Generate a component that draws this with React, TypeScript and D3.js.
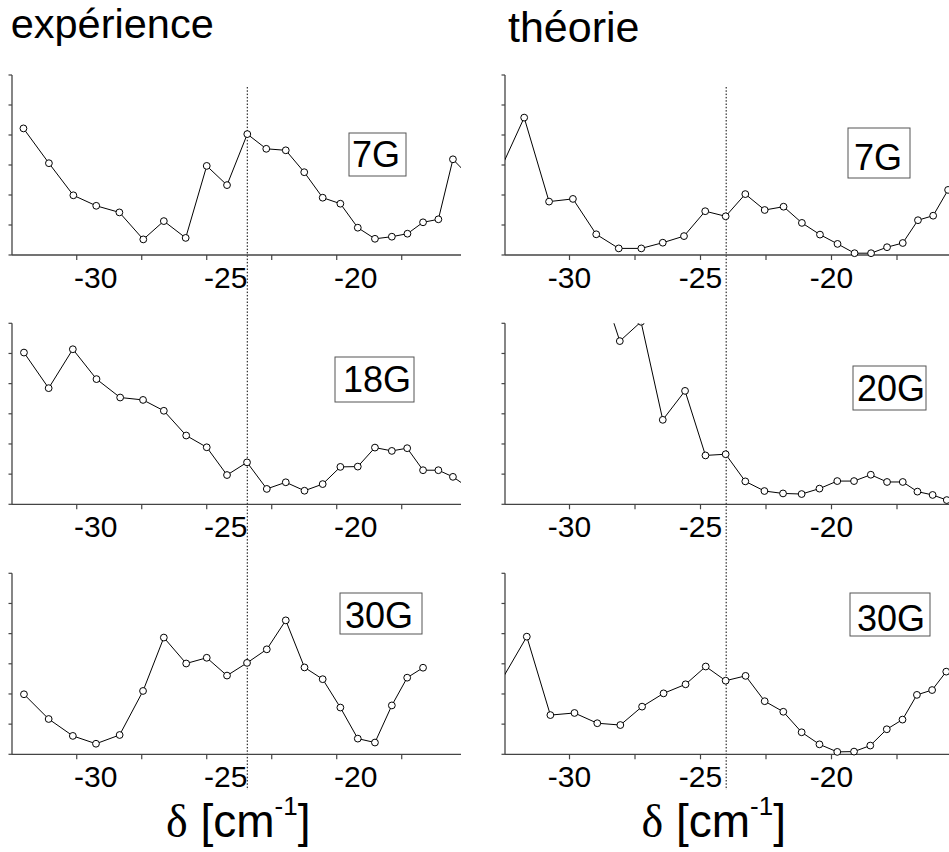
import React from "react";
import * as d3 from "d3";

// ---- data (δ in cm^-1, intensity in arbitrary units, y-axis 0..6) ----
const expLabels = ["7G", "18G", "30G"];
const theoLabels = ["7G", "20G", "30G"];
const titles = ["expérience", "théorie"];
const xTickMajor = [-30, -25, -20];
const xTickMinor = [-27.5, -22.5, -17.5];
const yTicks = [0, 1, 2, 3, 4, 5, 6];
const markerLines = [-23.44, -24.02];

const exp7X = [-32.05, -31.07, -30.13, -29.25, -28.36, -27.44, -26.65, -25.81, -25.0, -24.22, -23.44, -22.71, -21.96, -21.25, -20.54, -19.86, -19.19, -18.53, -17.88, -17.28, -16.68, -16.09, -15.53, -14.93];
const exp7Y = [4.22, 3.06, 1.99, 1.64, 1.42, 0.52, 1.13, 0.57, 2.97, 2.33, 4.03, 3.54, 3.49, 2.76, 1.91, 1.71, 0.91, 0.54, 0.61, 0.71, 1.09, 1.19, 3.19, 2.65];

const exp18X = [-32.03, -31.08, -30.15, -29.24, -28.33, -27.45, -26.65, -25.79, -25.0, -24.22, -23.45, -22.69, -21.96, -21.24, -20.54, -19.86, -19.19, -18.53, -17.88, -17.29, -16.68, -16.09, -15.53, -14.93];
const exp18Y = [5.03, 3.85, 5.14, 4.15, 3.54, 3.46, 3.1, 2.28, 1.89, 0.97, 1.39, 0.51, 0.73, 0.45, 0.67, 1.24, 1.25, 1.88, 1.77, 1.86, 1.13, 1.13, 0.91, 0.55];

const exp30X = [-32.03, -31.08, -30.15, -29.26, -28.35, -27.45, -26.65, -25.79, -25.0, -24.22, -23.45, -22.69, -21.96, -21.24, -20.54, -19.86, -19.19, -18.53, -17.88, -17.29, -16.68];
const exp30Y = [1.99, 1.17, 0.61, 0.35, 0.64, 2.1, 3.87, 3.01, 3.2, 2.61, 3.03, 3.48, 4.44, 2.88, 2.49, 1.55, 0.52, 0.39, 1.62, 2.54, 2.87];

const theo7X = [-32.62, -31.73, -30.78, -29.87, -28.98, -28.12, -27.26, -26.44, -25.63, -24.82, -24.04, -23.29, -22.55, -21.83, -21.13, -20.44, -19.77, -19.12, -18.49, -17.88, -17.28, -16.7, -16.12, -15.55];
const theo7Y = [2.88, 4.58, 1.78, 1.87, 0.69, 0.22, 0.22, 0.41, 0.63, 1.46, 1.29, 2.03, 1.5, 1.61, 1.07, 0.68, 0.37, 0.06, 0.06, 0.26, 0.4, 1.16, 1.31, 2.17];

const theo20X = [-28.87, -28.08, -27.27, -26.44, -25.59, -24.81, -24.04, -23.29, -22.56, -21.85, -21.14, -20.46, -19.78, -19.14, -18.5, -17.88, -17.28, -16.72, -16.14, -15.6];
const theo20Y = [7.5, 5.41, 6.05, 2.8, 3.76, 1.62, 1.66, 0.76, 0.44, 0.36, 0.34, 0.52, 0.77, 0.77, 0.98, 0.74, 0.74, 0.42, 0.31, 0.14];

const theo30X = [-32.7, -31.63, -30.73, -29.81, -28.94, -28.06, -27.23, -26.41, -25.57, -24.8, -24.04, -23.28, -22.55, -21.84, -21.14, -20.46, -19.78, -19.14, -18.52, -17.89, -17.29, -16.74, -16.16, -15.62];
const theo30Y = [2.3, 3.9, 1.3, 1.37, 1.03, 0.97, 1.58, 2.02, 2.32, 2.91, 2.44, 2.6, 1.76, 1.41, 0.73, 0.33, 0.08, 0.09, 0.29, 0.83, 1.15, 1.97, 2.13, 2.74];

// ---- layout ----
const W = 949;
const H = 852;
const FONT = "'Liberation Sans', Arial, Helvetica, sans-serif";
const rows = [
  { top: 75, bottom: 255 },
  { top: 323.3, bottom: 504.3 },
  { top: 573.3, bottom: 754.3 },
];
const cols = [
  { x0: 12, x1: 461, domain: [-32.49, -15.22], labelShift: 19, titleX: 10.7, titleY: 38, titleSize: 41.5, axisLabelX: 166 },
  { x0: 505, x1: 980, domain: [-32.462, -14.332], labelShift: 0, titleX: 508, titleY: 42, titleSize: 43, axisLabelX: 641.5 },
];
const boxes = [
  [
    { x: 349, y: 133, w: 57, h: 43, tx: 352, ty: 166.7 },
    { x: 335, y: 357, w: 79, h: 45, tx: 343, ty: 391.7 },
    { x: 340, y: 593, w: 82, h: 41, tx: 345, ty: 628.3 },
  ],
  [
    { x: 848, y: 128, w: 62, h: 50, tx: 854, ty: 170 },
    { x: 853, y: 366, w: 73, h: 44, tx: 857, ty: 400.7 },
    { x: 850, y: 593, w: 80, h: 43, tx: 857, ty: 630.7 },
  ],
];

const series = [
  [
    { xs: exp7X, ys: exp7Y },
    { xs: exp18X, ys: exp18Y },
    { xs: exp30X, ys: exp30Y },
  ],
  [
    { xs: theo7X, ys: theo7Y },
    { xs: theo20X, ys: theo20Y },
    { xs: theo30X, ys: theo30Y },
  ],
];
const labels = [expLabels, theoLabels];

function Panel({ ci, ri }: { ci: number; ri: number }) {
  const col = cols[ci];
  const row = rows[ri];
  const x = d3.scaleLinear().domain(col.domain).range([col.x0, col.x1]);
  const y = d3.scaleLinear().domain([0, 6]).range([row.bottom, row.top]);
  const s = series[ci][ri];
  const pts = s.xs.map((v, i) => [v, s.ys[i]] as [number, number]);
  const line = d3
    .line<[number, number]>()
    .x((d) => x(d[0]))
    .y((d) => y(d[1]));
  const clipId = `clip-${ci}-${ri}`;
  const axisEnd = Math.min(col.x1, W);
  const box = boxes[ci][ri];
  const inRange = (v: number) => x(v) > col.x0 + 1 && x(v) <= W;
  return (
    <g>
      <defs>
        <clipPath id={clipId}>
          <rect x={col.x0} y={row.top} width={col.x1 - col.x0} height={row.bottom - row.top + 6} />
        </clipPath>
      </defs>
      {/* axes */}
      <line x1={col.x0} x2={col.x0} y1={row.top} y2={row.bottom} stroke="#444" strokeWidth={1.3} />
      <line x1={col.x0} x2={axisEnd} y1={row.bottom} y2={row.bottom} stroke="#444" strokeWidth={1.3} />
      {yTicks.map((t) => (
        <line key={"y" + t} x1={col.x0 - 3.5} x2={col.x0} y1={y(t)} y2={y(t)} stroke="#444" strokeWidth={1.2} />
      ))}
      {[...xTickMajor, ...xTickMinor].filter(inRange).map((t) => (
        <line key={"x" + t} x1={x(t)} x2={x(t)} y1={row.bottom} y2={row.bottom + 5} stroke="#444" strokeWidth={1.2} />
      ))}
      {xTickMajor.filter(inRange).map((t) => (
        <text
          key={"l" + t}
          x={x(t) + col.labelShift}
          y={row.bottom + 33}
          textAnchor="middle"
          fontFamily={FONT}
          fontSize={30}
          fill="#000"
        >
          {"-" + Math.abs(t)}
        </text>
      ))}
      {/* data */}
      <g clipPath={`url(#${clipId})`}>
        <path d={line(pts) || ""} fill="none" stroke="#000" strokeWidth={1} />
        {pts.map((d, i) => (
          <circle key={i} cx={x(d[0])} cy={y(d[1])} r={3.4} fill="#fff" stroke="#000" strokeWidth={1} />
        ))}
      </g>
      {/* field label */}
      <rect x={box.x} y={box.y} width={box.w} height={box.h} fill="#fff" stroke="#555" strokeWidth={1} />
      <text x={box.tx} y={box.ty} fontFamily={FONT} fontSize={36} fill="#000">
        {labels[ci][ri]}
      </text>
    </g>
  );
}

export default function App() {
  return (
    <svg
      width={W}
      height={H}
      viewBox={`0 0 ${W} ${H}`}
      style={{ position: "absolute", left: 0, top: 0, background: "#fff" }}
    >
      <rect x={0} y={0} width={W} height={H} fill="#fff" />
      {cols.map((col, ci) => {
        const x = d3.scaleLinear().domain(col.domain).range([col.x0, col.x1]);
        return (
          <g key={ci}>
            <text x={col.titleX} y={col.titleY} fontFamily={FONT} fontSize={col.titleSize} fill="#000">
              {titles[ci]}
            </text>
            <line
              x1={x(markerLines[ci])}
              x2={x(markerLines[ci])}
              y1={87}
              y2={790}
              stroke="#000"
              strokeWidth={1}
              strokeDasharray="1.5 1.8"
            />
            {rows.map((_, ri) => (
              <Panel key={ri} ci={ci} ri={ri} />
            ))}
            <text x={col.axisLabelX} y={837} fontFamily={FONT} fontSize={46} fill="#000">
              <tspan fontFamily="'Liberation Serif', 'Times New Roman', serif">δ</tspan>
              <tspan> [cm</tspan>
              <tspan dy={-22} fontSize={26}>-1</tspan>
              <tspan dy={22}>]</tspan>
            </text>
          </g>
        );
      })}
    </svg>
  );
}
